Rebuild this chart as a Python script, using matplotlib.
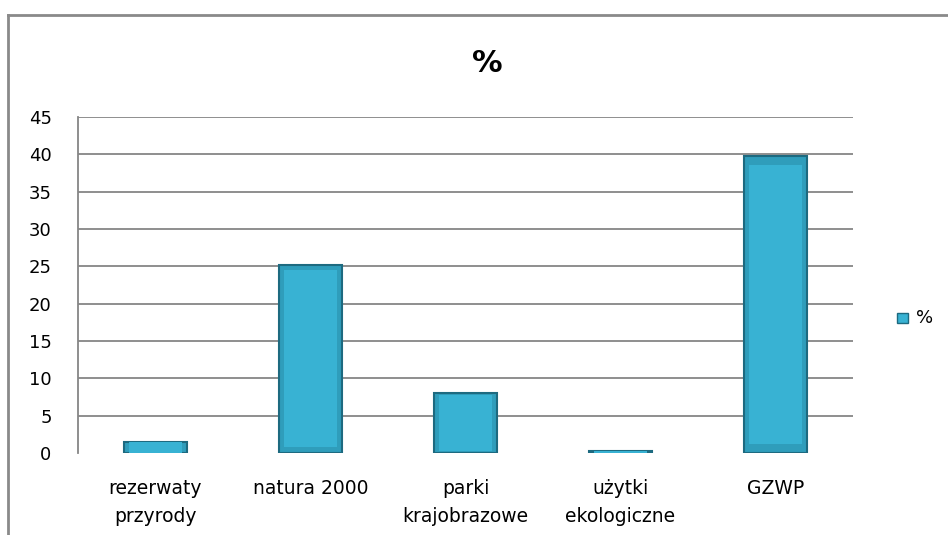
import matplotlib.pyplot as plt
from matplotlib.lines import Line2D

categories = ["rezerwaty\nprzyrody", "natura 2000", "parki\nkrajobrazowe", "użytki\nekologiczne", "GZWP"]
values = [1.5, 25.2, 8.0, 0.3, 39.8]
yticks = [0, 5, 10, 15, 20, 25, 30, 35, 40, 45]

plt.rcParams["font.family"] = ["DejaVu Sans"]

W, H = 948, 535
fig = plt.figure(figsize=(W / 100, H / 100), dpi=100)
ax = fig.add_axes([78 / W, 1 - 453 / H, (853 - 78) / W, (453 - 117) / H])

x = list(range(len(categories)))
# main bar with darker bevel edge
ax.bar(x, values, width=0.41, color="#2f9dbb", edgecolor="#1d6a80", linewidth=1.5, zorder=3)
# lighter inner face to hint at the bevel
ax.bar(x, [v * 0.94 for v in values], width=0.34, bottom=[v * 0.03 for v in values],
       color="#38b2d3", linewidth=0, zorder=4)

ax.set_xlim(-0.5, len(categories) - 0.5)
ax.set_ylim(0, 45)
ax.set_yticks(yticks)
ax.set_yticklabels([str(t) for t in yticks], fontsize=13)
ax.set_xticks(x)
ax.set_xticklabels(categories, fontsize=13.5, linespacing=1.6, va="top")
ax.tick_params(axis="y", length=0, pad=19)
ax.tick_params(axis="x", length=0, pad=19)

ax.grid(axis="y", color="#868686", linewidth=1.3, zorder=0)
ax.yaxis.get_gridlines()[0].set_visible(False)
for s in ["top", "right", "bottom"]:
    ax.spines[s].set_visible(False)
ax.spines["left"].set_color("#868686")
ax.spines["left"].set_linewidth(1.3)

fig.text(487 / W, 1 - 64 / H, "%", fontsize=22, fontweight="bold", ha="center", va="center")

# legend
fig.patches.append(plt.Rectangle((897 / W, 1 - 323 / H), 11 / W, 10 / H, transform=fig.transFigure,
                                 facecolor="#38b2d3", edgecolor="#1d6a80", linewidth=1))
fig.text(916 / W, 1 - 318 / H, "%", fontsize=13, ha="left", va="center")

# outer chart frame
fig.add_artist(Line2D([8 / W, 8 / W], [0, 1 - 15 / H], transform=fig.transFigure, color="#8a8a8a", linewidth=2))
fig.add_artist(Line2D([8 / W, 1], [1 - 15 / H, 1 - 15 / H], transform=fig.transFigure, color="#8a8a8a", linewidth=2))

fig.savefig("out.png", dpi=100)
